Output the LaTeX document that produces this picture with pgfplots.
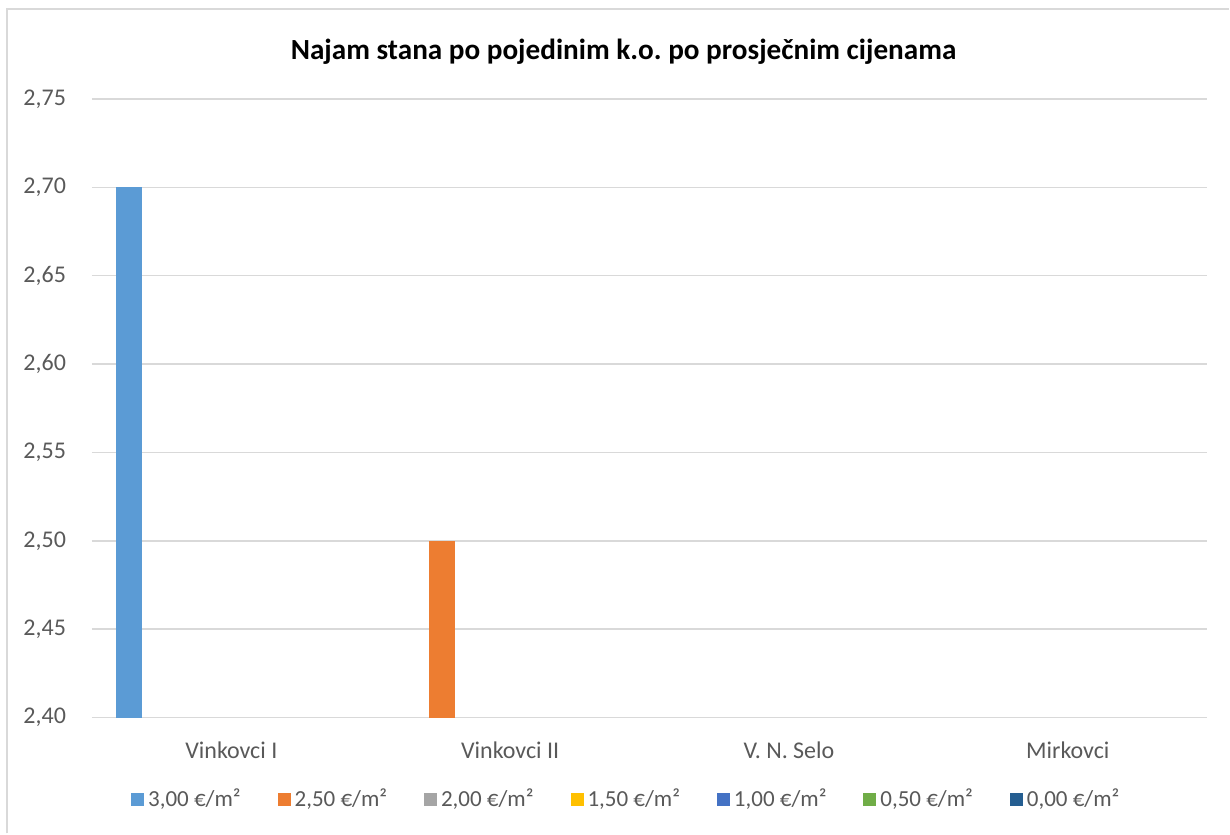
\documentclass[border=0pt]{standalone}
\usepackage{fontspec}
\setmainfont{Carlito}
\usepackage{pgfplots}
\pgfplotsset{compat=1.18}
\definecolor{sA}{HTML}{5B9BD5}
\definecolor{sB}{HTML}{ED7D31}
\definecolor{sC}{HTML}{A5A5A5}
\definecolor{sD}{HTML}{FFC000}
\definecolor{sE}{HTML}{4472C4}
\definecolor{sF}{HTML}{70AD47}
\definecolor{sG}{HTML}{255E91}
\definecolor{txt}{HTML}{595959}
\definecolor{grd}{HTML}{D9D9D9}
\frenchspacing
\begin{document}
\begin{tikzpicture}
\begin{axis}[
  scale only axis,
  width=558pt, height=309.5pt,
  xmin=-0.5, xmax=3.5,
  ymin=2.40, ymax=2.75,
  ytick={2.40,2.45,2.50,2.55,2.60,2.65,2.70,2.75},
  xtick={0,1,2,3},
  xticklabels={Vinkovci I, Vinkovci II, V. N. Selo, Mirkovci},
  major tick length=0pt,
  axis line style={draw=none},
  ymajorgrids,
  grid style={grd, line width=0.8pt},
  /pgf/number format/assume math mode=true,
  yticklabel={\pgfmathprintnumber[fixed, fixed zerofill, precision=2, use comma]{\tick}},
  ticklabel style={font=\fontsize{12}{14}\selectfont, text=txt},
  yticklabel style={xshift=-9.5pt},
  xticklabel style={yshift=-8.5pt},
  legend columns=7,
  legend style={at={(0.48,0)}, anchor=center, yshift=-41pt, draw=none,
    font=\fontsize{11.5}{13}\selectfont, text=txt,
    /tikz/every even column/.append style={column sep=16.5pt}},
  legend image code/.code={\fill[#1] (0pt,-3.25pt) rectangle (6.5pt,3.25pt);},
]
\addplot[ybar, bar width=0.0932, bar shift=-0.3656, fill=sA, draw=none] coordinates {(0,2.70)};
\addlegendentry{3,00 €/m²}
\addplot[ybar, bar width=0.0932, bar shift=-0.2437, fill=sB, draw=none] coordinates {(1,2.50)};
\addlegendentry{2,50 €/m²}
\addlegendimage{fill=sC, draw=none}
\addlegendentry{2,00 €/m²}
\addlegendimage{fill=sD, draw=none}
\addlegendentry{1,50 €/m²}
\addlegendimage{fill=sE, draw=none}
\addlegendentry{1,00 €/m²}
\addlegendimage{fill=sF, draw=none}
\addlegendentry{0,50 €/m²}
\addlegendimage{fill=sG, draw=none}
\addlegendentry{0,00 €/m²}
\end{axis}
\node[font=\bfseries\fontsize{14.6}{17}\selectfont] at (266pt,333pt) {Najam stana po pojedinim k.o. po prosječnim cijenama};
\draw[grd, line width=0.8pt] (-42.5pt,-58pt) -- (-42.5pt,354.5pt) -- (569pt,354.5pt);
\useasboundingbox (-46pt,-58pt) rectangle (569pt,359pt);
\end{tikzpicture}
\end{document}
